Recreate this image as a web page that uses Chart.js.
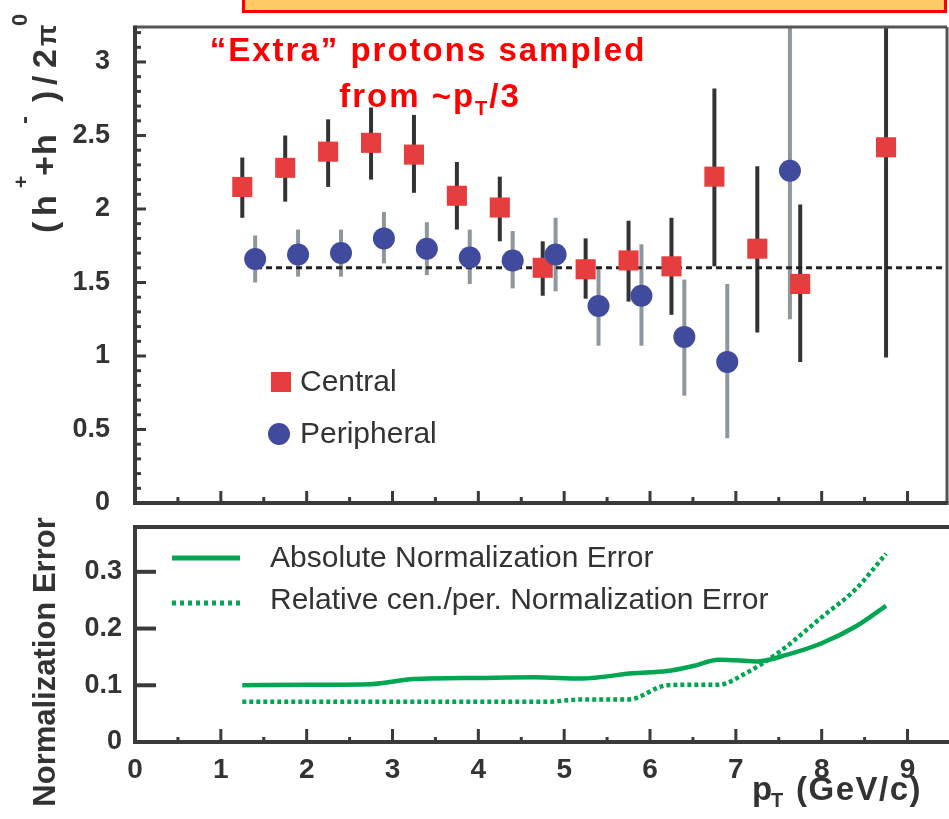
<!DOCTYPE html>
<html>
<head>
<meta charset="utf-8">
<script src="https://cdn.jsdelivr.net/npm/chart.js@4.4.0/dist/chart.umd.min.js"></script>
<style>
  body { margin: 0; background: #fff; }
  #wrap { position: relative; width: 949px; height: 819px; overflow: hidden; background: #fff; }
  #banner { position: absolute; left: 242px; top: -12px; width: 699px; height: 19px; background: #ffcb69; border: 3px solid #ff0000; }
  canvas { position: absolute; left: 0; }
</style>
</head>
<body>
<div id="wrap">
  <div id="banner"></div>
  <canvas id="ratio-chart" width="949" height="515" style="top:0"></canvas>
  <canvas id="norm-chart" width="949" height="304" style="top:515px"></canvas>
</div>
<script>
// central (red squares)
let centralPt  = [1.25, 1.75, 2.25, 2.75, 3.25, 3.75, 4.25, 4.75, 5.25, 5.75, 6.25, 6.75, 7.25, 7.75, 8.75];
let centralVal = [2.15, 2.28, 2.39, 2.45, 2.37, 2.09, 2.01, 1.60, 1.59, 1.65, 1.61, 2.22, 1.73, 1.49, 2.42];
let centralHi  = [2.35, 2.50, 2.61, 2.69, 2.64, 2.32, 2.22, 1.78, 1.80, 1.92, 1.94, 2.82, 2.29, 2.03, 3.40];
let centralLo  = [1.94, 2.05, 2.15, 2.20, 2.11, 1.86, 1.78, 1.41, 1.39, 1.37, 1.28, 1.61, 1.16, 0.96, 0.99];

// peripheral (blue circles)
let periphPt  = [1.40, 1.90, 2.40, 2.90, 3.40, 3.90, 4.40, 4.90, 5.40, 5.90, 6.40, 6.90, 7.63];
let periphVal = [1.66, 1.69, 1.70, 1.80, 1.73, 1.67, 1.65, 1.69, 1.34, 1.41, 1.13, 0.96, 2.26];
let periphHi  = [1.82, 1.86, 1.86, 1.98, 1.91, 1.86, 1.85, 1.94, 1.61, 1.76, 1.52, 1.49, 3.40];
let periphLo  = [1.50, 1.54, 1.54, 1.63, 1.55, 1.49, 1.46, 1.44, 1.07, 1.07, 0.73, 0.44, 1.25];

// dotted reference level
let refLevel = 1.60;
let refFrom = 1.41;

// normalization errors
let absPt  = [1.25, 2.0, 2.75, 3.25, 4.0, 4.65, 5.2, 5.8, 6.2, 6.5, 6.8, 7.0, 7.25, 7.6, 8.0, 8.4, 8.75];
let absErr = [0.100, 0.101, 0.102, 0.111, 0.113, 0.114, 0.112, 0.121, 0.125, 0.134, 0.145, 0.144, 0.142, 0.154, 0.174, 0.204, 0.240];
let relPt  = [1.25, 2.0, 3.0, 4.0, 4.8, 5.2, 5.75, 6.2, 6.5, 6.8, 7.1, 7.5, 8.0, 8.4, 8.75];
let relErr = [0.071, 0.071, 0.071, 0.071, 0.071, 0.075, 0.075, 0.100, 0.101, 0.101, 0.120, 0.158, 0.220, 0.270, 0.332];

// ticks
let xTicks = [0, 1, 2, 3, 4, 5, 6, 7, 8, 9];
let xLabels = ["0", "1", "2", "3", "4", "5", "6", "7", "8", "9"];
let yTicksTop = [0, 0.5, 1, 1.5, 2, 2.5, 3];
let yLabelsTop = ["0", "0.5", "1", "1.5", "2", "2.5", "3"];
let yTicksBot = [0, 0.1, 0.2, 0.3];
let yLabelsBot = ["0", "0.1", "0.2", "0.3"];

let FONT = "'Liberation Sans', Arial, Helvetica, sans-serif";
let RED = '#e63e3f', BLUE = '#414b9e', GREEN = '#00a651', AXIS = '#3a3a3a';
let X_MAX = 9.46;

let toXY = (xs, ys) => xs.map((x, i) => ({ x: x, y: ys[i] }));

function drawBars(ctx, xs, ys, pts, lo, hi, color) {
    ctx.strokeStyle = color;
    for (let i = 0; i < pts.length; i++) {
        let px = xs.getPixelForValue(pts[i]);
        ctx.beginPath();
        ctx.moveTo(px, ys.getPixelForValue(lo[i]));
        ctx.lineTo(px, ys.getPixelForValue(hi[i]));
        ctx.stroke();
    }
}

function line(ctx, x1, y1, x2, y2) {
    ctx.beginPath();
    ctx.moveTo(x1, y1);
    ctx.lineTo(x2, y2);
    ctx.stroke();
}

// no extra room for the first/last tick label
function fixScale(size) {
    return s => {
        if (s.isHorizontal()) s.height = size; else s.width = size;
        s.paddingTop = 0; s.paddingBottom = 0; s.paddingLeft = 0; s.paddingRight = 0;
    };
}

let ratioDecor = {
    id: 'ratioDecor',
    beforeDatasetsDraw(chart) {
        let ctx = chart.ctx, a = chart.chartArea;
        ctx.save();
        ctx.beginPath();
        ctx.rect(a.left, a.top, a.right - a.left, a.bottom - a.top);
        ctx.clip();
        ctx.lineWidth = 4;
        drawBars(ctx, chart.scales.x, chart.scales.y, centralPt, centralLo, centralHi, '#333333');
        drawBars(ctx, chart.scales.x, chart.scales.y, periphPt, periphLo, periphHi, '#8d979d');
        ctx.restore();
    },
    afterDraw(chart) {
        let ctx = chart.ctx, a = chart.chartArea, xs = chart.scales.x, ys = chart.scales.y;
        ctx.save();
        // frame
        ctx.strokeStyle = '#555';
        ctx.lineWidth = 3;
        line(ctx, a.left, a.top, a.right, a.top);
        line(ctx, a.right, a.top, a.right, a.bottom);
        ctx.strokeStyle = AXIS;
        ctx.lineWidth = 4;
        line(ctx, a.left, a.top - 1.5, a.left, a.bottom + 2);
        line(ctx, a.left, a.bottom, a.right + 1.5, a.bottom);
        // ticks
        ctx.lineWidth = 3;
        for (let k = 0; k <= 32; k++) {
            let py = ys.getPixelForValue(k / 10);
            line(ctx, a.left, py, a.left + (k % 5 === 0 ? 11 : 6), py);
        }
        for (let k = 1; k <= 18; k++) {
            let px = xs.getPixelForValue(k / 2);
            line(ctx, px, a.bottom, px, a.bottom - (k % 2 === 0 ? 12 : 6));
        }

        // annotation
        ctx.fillStyle = '#ff0000';
        ctx.letterSpacing = '2px';
        ctx.font = 'bold 33px ' + FONT;
        ctx.textAlign = 'left';
        ctx.textBaseline = 'alphabetic';
        let l1 = '\u201cExtra\u201d protons sampled';
        ctx.fillText(l1, 428 - ctx.measureText(l1).width / 2, 61);
        let p1 = 'from ~p', p3 = '/3';
        let w1 = ctx.measureText(p1).width, w3 = ctx.measureText(p3).width;
        ctx.font = 'bold 20px ' + FONT;
        let w2 = ctx.measureText('T').width;
        let sx = 430 - (w1 + w2 + w3) / 2;
        ctx.font = 'bold 33px ' + FONT;
        ctx.fillText(p1, sx, 107);
        ctx.fillText(p3, sx + w1 + w2, 107);
        ctx.font = 'bold 20px ' + FONT;
        ctx.fillText('T', sx + w1, 115);
        ctx.letterSpacing = '0px';

        // legend
        ctx.fillStyle = RED;
        ctx.fillRect(271, 372, 20, 20);
        ctx.fillStyle = BLUE;
        ctx.beginPath();
        ctx.arc(279, 434, 11, 0, Math.PI * 2);
        ctx.fill();
        ctx.fillStyle = '#333';
        ctx.font = '30px ' + FONT;
        ctx.textBaseline = 'middle';
        ctx.fillText('Central', 300, 383);
        ctx.fillText('Peripheral', 300, 435);

        // y title, pieces placed along the rotated axis
        ctx.translate(56, 236);
        ctx.rotate(-Math.PI / 2);
        ctx.textBaseline = 'alphabetic';
        ctx.fillStyle = '#333';
        let piece = (txt, size, at, dy) => {
            ctx.font = 'bold ' + size + 'px ' + FONT;
            ctx.fillText(txt, at, dy);
        };
        piece('(', 34, 3, 0);
        piece('h', 34, 20, 0);
        piece('+', 21, 48, -28);
        piece('+', 34, 60, 0);
        piece('h', 34, 81, 0);
        piece('-', 24, 112, -24);
        piece(')', 34, 134, 0);
        piece('/', 34, 151, 0);
        piece('2', 34, 168, 0);
        piece('\u03c0', 28, 190, 0);
        piece('0', 22, 210, -29);
        ctx.restore();
    }
};

let normDecor = {
    id: 'normDecor',
    afterDraw(chart) {
        let ctx = chart.ctx, a = chart.chartArea, xs = chart.scales.x, ys = chart.scales.y;
        ctx.save();
        ctx.strokeStyle = AXIS;
        ctx.lineWidth = 4;
        ctx.strokeRect(a.left, a.top, a.right - a.left + 4, a.bottom - a.top);
        for (let k = 1; k < yTicksBot.length; k++) {
            let py = ys.getPixelForValue(yTicksBot[k]);
            line(ctx, a.left, py, a.left + 21, py);
        }
        ctx.lineWidth = 3;
        for (let k = 1; k <= 18; k++) {
            let px = xs.getPixelForValue(k / 2);
            line(ctx, px, a.bottom, px, a.bottom - (k % 2 === 0 ? 13 : 5));
        }

        // legend
        ctx.strokeStyle = GREEN;
        ctx.lineWidth = 5;
        line(ctx, 172, 558 - 515, 240, 558 - 515);
        ctx.setLineDash([4, 4]);
        line(ctx, 172, 603 - 515, 240, 603 - 515);
        ctx.setLineDash([]);
        ctx.fillStyle = '#333';
        ctx.font = '30px ' + FONT;
        ctx.textBaseline = 'middle';
        ctx.textAlign = 'left';
        ctx.fillText('Absolute Normalization Error', 270, 559 - 515);
        ctx.fillText('Relative cen./per. Normalization Error', 270, 601 - 515);

        // x title
        ctx.textBaseline = 'alphabetic';
        ctx.letterSpacing = '1.5px';
        ctx.font = 'bold 33px ' + FONT;
        ctx.fillText('p', 752, 800 - 515);
        ctx.fillText('(GeV/c)', 796, 800 - 515);
        ctx.font = 'bold 20px ' + FONT;
        ctx.fillText('T', 771, 807 - 515);
        ctx.letterSpacing = '0px';

        // y title
        ctx.translate(55, 662 - 515);
        ctx.rotate(-Math.PI / 2);
        ctx.textAlign = 'center';
        ctx.font = 'bold 31px ' + FONT;
        ctx.fillText('Normalization Error', 0, 0);
        ctx.restore();
    }
};

let tickFont = { family: FONT, size: 27, weight: 'bold' };

let ratioConfig = {
    type: 'scatter',
    data: {
        datasets: [{
            label: 'Peripheral',
            data: toXY(periphPt, periphVal),
            pointStyle: 'circle',
            pointRadius: 11,
            backgroundColor: BLUE,
            borderWidth: 0,
            order: 1
        }, {
            label: 'Central',
            data: toXY(centralPt, centralVal),
            pointStyle: 'rect',
            pointRadius: 14.2,
            backgroundColor: RED,
            borderWidth: 0,
            order: 2
        }, {
            type: 'line',
            label: 'level',
            data: [{ x: refFrom, y: refLevel }, { x: X_MAX, y: refLevel }],
            borderColor: '#222',
            borderWidth: 3,
            borderDash: [6, 4],
            pointRadius: 0,
            order: 3
        }]
    },
    options: {
        animation: false,
        responsive: false,
        devicePixelRatio: 1,
        layout: { autoPadding: false, padding: { top: 27, right: 2, left: 0, bottom: 0 } },
        plugins: { legend: { display: false }, tooltip: { enabled: false } },
        scales: {
            x: {
                type: 'linear', min: 0, max: X_MAX,
                grid: { display: false, drawTicks: false },
                border: { display: false },
                ticks: { display: false },
                afterFit: fixScale(12)
            },
            y: {
                min: 0, max: 3.238,
                grid: { display: false, drawTicks: false },
                border: { display: false },
                afterBuildTicks: s => { s.ticks = yTicksTop.map(v => ({ value: v })); },
                ticks: {
                    padding: 25, color: '#333', font: tickFont,
                    callback: v => yLabelsTop[yTicksTop.indexOf(v)]
                },
                afterFit: fixScale(135)
            }
        }
    },
    plugins: [ratioDecor]
};

let normConfig = {
    type: 'scatter',
    data: {
        datasets: [{
            label: 'Absolute Normalization Error',
            data: toXY(absPt, absErr),
            showLine: true,
            borderColor: GREEN,
            borderWidth: 4.5,
            pointRadius: 0,
            cubicInterpolationMode: 'monotone'
        }, {
            label: 'Relative cen./per. Normalization Error',
            data: toXY(relPt, relErr),
            showLine: true,
            borderColor: GREEN,
            borderWidth: 4.5,
            borderDash: [4, 3],
            pointRadius: 0,
            cubicInterpolationMode: 'monotone'
        }]
    },
    options: {
        animation: false,
        responsive: false,
        devicePixelRatio: 1,
        layout: { autoPadding: false, padding: { top: 12, right: 2, left: 0, bottom: 0 } },
        plugins: { legend: { display: false }, tooltip: { enabled: false } },
        scales: {
            x: {
                type: 'linear', min: 0, max: X_MAX,
                grid: { display: false, drawTicks: false },
                border: { display: false },
                afterBuildTicks: s => { s.ticks = xTicks.map(v => ({ value: v })); },
                ticks: {
                    padding: 11, color: '#333', font: { family: FONT, size: 28, weight: 'bold' },
                    maxRotation: 0, autoSkip: false,
                    callback: v => xLabels[xTicks.indexOf(v)]
                },
                afterFit: fixScale(77)
            },
            y: {
                min: 0, max: 0.379,
                grid: { display: false, drawTicks: false },
                border: { display: false },
                afterBuildTicks: s => { s.ticks = yTicksBot.map(v => ({ value: v })); },
                ticks: {
                    padding: 13, color: '#333', font: tickFont,
                    callback: v => yLabelsBot[yTicksBot.indexOf(v)]
                },
                afterFit: fixScale(135)
            }
        }
    },
    plugins: [normDecor]
};

new Chart(document.getElementById('ratio-chart').getContext('2d'), ratioConfig);
new Chart(document.getElementById('norm-chart').getContext('2d'), normConfig);
</script>
</body>
</html>
